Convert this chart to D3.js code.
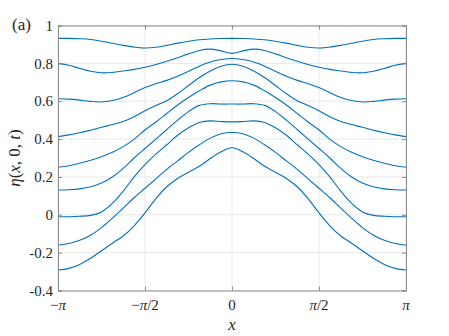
<!DOCTYPE html>
<html><head><meta charset="utf-8">
<script src="https://cdn.jsdelivr.net/npm/d3@7"></script>
<style>
html,body{margin:0;padding:0;background:#fff;}
svg{display:block;}
</style></head>
<body><svg id="c" width="449" height="336"></svg>
<script>
// x positions in units of pi
const xs = [-1,-0.9375,-0.875,-0.8125,-0.75,-0.6875,-0.625,-0.5625,-0.5,-0.4375,-0.375,-0.3125,-0.25,-0.1875,-0.125,-0.0625,0,
            0.0625,0.125,0.1875,0.25,0.3125,0.375,0.4375,0.5,0.5625,0.625,0.6875,0.75,0.8125,0.875,0.9375,1];
const c1 = [0.932,0.932,0.930,0.926,0.917,0.906,0.895,0.886,0.881,0.885,0.895,0.907,0.917,0.925,0.929,0.931,0.932,0.931,0.929,0.925,0.917,0.907,0.895,0.885,0.881,0.886,0.895,0.906,0.917,0.926,0.930,0.932,0.932];
const c2 = [0.800,0.790,0.773,0.758,0.750,0.752,0.760,0.768,0.779,0.794,0.811,0.830,0.850,0.868,0.875,0.866,0.853,0.866,0.875,0.868,0.850,0.830,0.811,0.794,0.779,0.768,0.760,0.752,0.750,0.758,0.773,0.790,0.800];
const c3 = [0.613,0.611,0.606,0.599,0.596,0.604,0.620,0.645,0.672,0.692,0.710,0.732,0.758,0.785,0.807,0.820,0.826,0.820,0.807,0.785,0.758,0.732,0.710,0.692,0.672,0.645,0.620,0.604,0.596,0.599,0.606,0.611,0.613];
const c4 = [0.413,0.422,0.433,0.447,0.462,0.477,0.493,0.518,0.550,0.577,0.603,0.640,0.683,0.725,0.760,0.785,0.795,0.785,0.760,0.725,0.683,0.640,0.603,0.577,0.550,0.518,0.493,0.477,0.462,0.447,0.433,0.422,0.413];
const c5 = [0.251,0.259,0.272,0.288,0.307,0.330,0.360,0.400,0.448,0.490,0.535,0.580,0.620,0.655,0.685,0.702,0.708,0.702,0.685,0.655,0.620,0.580,0.535,0.490,0.448,0.400,0.360,0.330,0.307,0.288,0.272,0.259,0.251];
const c6 = [0.131,0.132,0.137,0.148,0.168,0.200,0.245,0.300,0.350,0.400,0.450,0.500,0.545,0.578,0.587,0.585,0.585,0.585,0.587,0.578,0.545,0.500,0.450,0.400,0.350,0.300,0.245,0.200,0.168,0.148,0.137,0.132,0.131];
const c7 = [-0.010,-0.010,-0.008,-0.003,0.015,0.060,0.125,0.200,0.265,0.320,0.370,0.420,0.460,0.488,0.496,0.493,0.491,0.493,0.496,0.488,0.460,0.420,0.370,0.320,0.265,0.200,0.125,0.060,0.015,-0.003,-0.008,-0.010,-0.010];
const c8 = [-0.161,-0.152,-0.135,-0.108,-0.068,-0.018,0.035,0.090,0.140,0.190,0.240,0.285,0.330,0.370,0.405,0.428,0.435,0.428,0.405,0.370,0.330,0.285,0.240,0.190,0.140,0.090,0.035,-0.018,-0.068,-0.108,-0.135,-0.152,-0.161];
const c9 = [-0.292,-0.283,-0.262,-0.230,-0.190,-0.150,-0.112,-0.058,0.010,0.085,0.148,0.192,0.225,0.256,0.297,0.333,0.354,0.333,0.297,0.256,0.225,0.192,0.148,0.085,0.010,-0.058,-0.112,-0.150,-0.190,-0.230,-0.262,-0.283,-0.292];
const series = [c1,c2,c3,c4,c5,c6,c7,c8,c9];
const xTickVals = [-1,-0.5,0,0.5,1];
const xTickLabels = ["−π","−π/2","0","π/2","π"];
const yTickVals = [-0.4,-0.2,0,0.2,0.4,0.6,0.8,1];
const yTickLabels = ["-0.4","-0.2","0","0.2","0.4","0.6","0.8","1"];

const FONT = "'Liberation Serif','Times New Roman',serif";
const svg = d3.select("#c");
const L=58, R=406, T=25.5, B=290.5;
const x = d3.scaleLinear().domain([-1,1]).range([L,R]);
const y = d3.scaleLinear().domain([-0.4,1]).range([B,T]);
const axisCol = "#8a8a8a", gridCol = "#e8e8e8", txtCol = "#262626";

// grid
const g = svg.append("g");
g.selectAll(".gx").data(xTickVals).join("line")
  .attr("x1",d=>x(d)).attr("x2",d=>x(d)).attr("y1",T).attr("y2",B)
  .attr("stroke",gridCol).attr("stroke-width",1);
g.selectAll(".gy").data(yTickVals).join("line")
  .attr("y1",d=>y(d)).attr("y2",d=>y(d)).attr("x1",L).attr("x2",R)
  .attr("stroke",gridCol).attr("stroke-width",1);

// curves
const line = d3.line().x((d,i)=>x(xs[i])).y(d=>y(d)).curve(d3.curveCatmullRom.alpha(0.5));
svg.append("g").selectAll("path").data(series).join("path")
  .attr("d",line).attr("fill","none").attr("stroke","#0072BD").attr("stroke-width",1.1);

// axes (box with inward ticks)
const ax = svg.append("g").attr("transform",`translate(0,${B})`).call(d3.axisBottom(x).tickValues(xTickVals).tickSize(-4).tickFormat(""));
const axT = svg.append("g").attr("transform",`translate(0,${T})`).call(d3.axisTop(x).tickValues(xTickVals).tickSize(-4).tickFormat(""));
const ay = svg.append("g").attr("transform",`translate(${L},0)`).call(d3.axisLeft(y).tickValues(yTickVals).tickSize(-4).tickFormat(""));
const ayR = svg.append("g").attr("transform",`translate(${R},0)`).call(d3.axisRight(y).tickValues(yTickVals).tickSize(-4).tickFormat(""));
[ax,axT,ay,ayR].forEach(a=>{a.selectAll("path,line").attr("stroke",axisCol).attr("stroke-width",1);});

// y tick labels
svg.append("g").selectAll("text").data(yTickVals).join("text")
  .attr("x",L-5).attr("y",d=>y(d)).attr("dy","0.35em").attr("text-anchor","end")
  .attr("font-family",FONT).attr("fill",txtCol)
  .attr("font-size",15).text((d,i)=>yTickLabels[i]);

// x tick labels with italic pi
const xl = svg.append("g").selectAll("text").data(xTickVals).join("text")
  .attr("x",d=>x(d)).attr("y",B+19).attr("text-anchor","middle")
  .attr("font-family",FONT).attr("fill",txtCol).attr("font-size",15);
xl.each(function(d,i){
  const s = xTickLabels[i]; const t = d3.select(this);
  for (const ch of s){
    const sp = t.append("tspan").text(ch);
    if (ch==="π") sp.attr("font-style","italic");
  }
});

// axis labels
svg.append("text").attr("x",(L+R)/2).attr("y",330).attr("text-anchor","middle")
  .attr("font-family",FONT).attr("fill",txtCol)
  .attr("font-size",17).attr("font-style","italic").text("x");
const yl = svg.append("text").attr("transform",`translate(20,${(T+B)/2}) rotate(-90)`)
  .attr("font-family",FONT).attr("fill",txtCol)
  .attr("text-anchor","middle").attr("font-size",17);
[["η",true],["(",false],["x",true],[", 0, ",false],["t",true],[")",false]].forEach(([s,it])=>{
  const sp = yl.append("tspan").text(s); if(it) sp.attr("font-style","italic");
});

// panel label
svg.append("text").attr("x",12).attr("y",30).attr("font-family",FONT).attr("fill",txtCol)
  .attr("font-size",17).text("(a)");
</script></body></html>
